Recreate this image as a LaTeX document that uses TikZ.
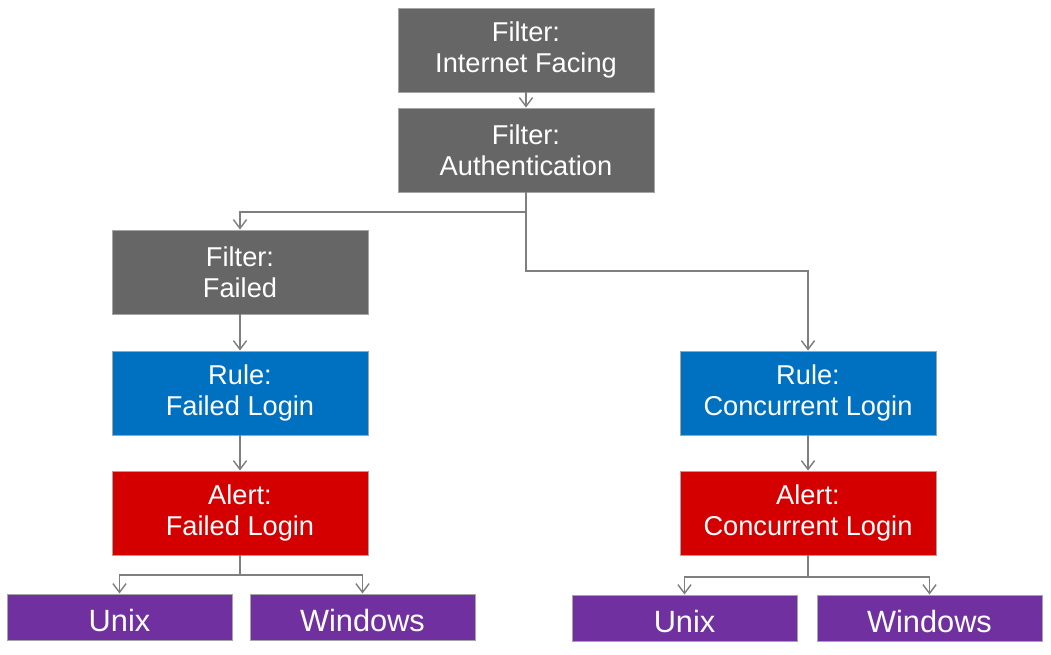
\documentclass[tikz,border=0pt]{standalone}
\usepackage{fontspec}
\setmainfont{Liberation Sans}
\usetikzlibrary{arrows.meta}
\definecolor{filtergray}{HTML}{666666}
\definecolor{ruleblue}{HTML}{0070C0}
\definecolor{alertred}{HTML}{D40000}
\definecolor{ospurple}{HTML}{7030A0}
\definecolor{linegray}{HTML}{7F7F7F}
\begin{document}
\begin{tikzpicture}[x=0.02cm, y=-0.02cm,
  box/.style={draw=linegray!70, line width=0.5pt, text=white, align=center,
    minimum width=5.12cm, minimum height=1.68cm, inner sep=0pt,
    font=\fontsize{15.5}{17.5}\selectfont},
  filterbox/.style={box, fill=filtergray},
  rulebox/.style={box, fill=ruleblue},
  alertbox/.style={box, fill=alertred},
  osbox/.style={box, fill=ospurple, minimum width=4.5cm, minimum height=0.92cm,
    text height=16pt, text depth=0pt, font=\fontsize{17.5}{19}\selectfont},
  arr/.style={draw=linegray, line width=0.8pt, -{Straight Barb[length=5pt,width=7.5pt]}}]
  \useasboundingbox (0,0) rectangle (1051,655);
  \node[filterbox] (inet) at (526,50) {Filter:\\Internet Facing};
  \node[filterbox] (auth) at (526,150) {Filter:\\Authentication};
  \node[filterbox] (failed) at (240,272) {Filter:\\Failed};
  \node[rulebox] (rulefl) at (240,393) {Rule:\\Failed Login};
  \node[alertbox] (alertfl) at (240,513) {Alert:\\Failed Login};
  \node[osbox] (unixfl) at (119.5,617) {Unix};
  \node[osbox] (winfl) at (362.5,617) {Windows};
  \node[rulebox] (rulecl) at (808,393) {Rule:\\Concurrent Login};
  \node[alertbox] (alertcl) at (808,513) {Alert:\\Concurrent Login};
  \node[osbox] (unixcl) at (684.5,618) {Unix};
  \node[osbox] (wincl) at (929.5,618) {Windows};
  % connectors
  \draw[arr] (inet) -- (auth);
  \draw[arr] (auth.south) -- (auth.south |- 0,212) -| (failed.north);
  \draw[arr] (auth.south) -- (auth.south |- 0,271) -| (rulecl.north);
  \draw[arr] (failed) -- (rulefl);
  \draw[arr] (rulefl) -- (alertfl);
  \draw[arr] (rulecl) -- (alertcl);
  \foreach \t in {unixfl,winfl}
    \draw[arr] (alertfl.south) -- (alertfl.south |- 0,575) -| (\t.north);
  \foreach \t in {unixcl,wincl}
    \draw[arr] (alertcl.south) -- (alertcl.south |- 0,577) -| (\t.north);
\end{tikzpicture}
\end{document}
